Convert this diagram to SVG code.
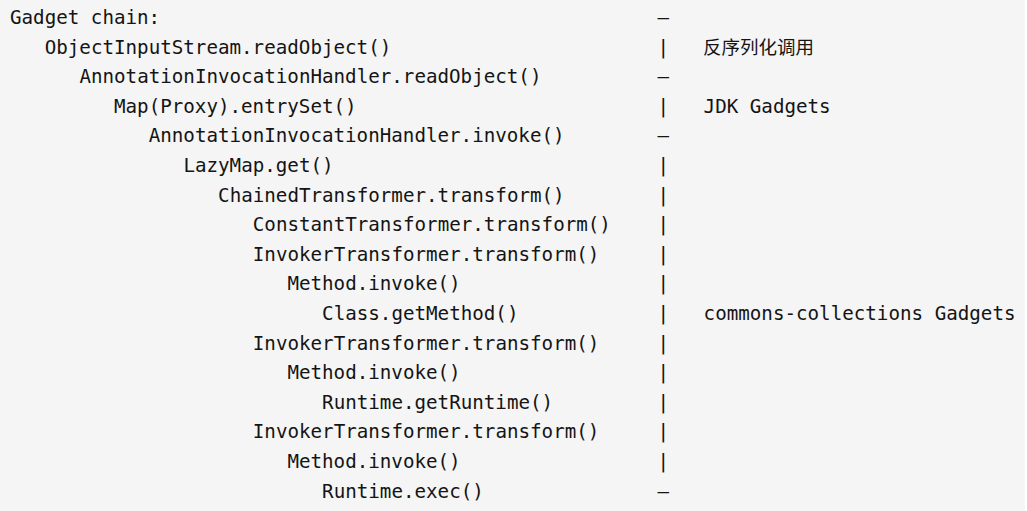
<svg xmlns="http://www.w3.org/2000/svg" width="1027" height="511" viewBox="0 0 1027 511">
<style>
text{font-family:"DejaVu Sans Mono","Liberation Mono","Noto Sans CJK SC",monospace;font-size:19.2px;fill:#141414}
.cjk{font-family:"Noto Sans CJK SC","DejaVu Sans",sans-serif;font-size:18.5px;font-weight:400}
</style>
<rect x="0" y="0" width="1027" height="511" fill="#f5f5f5"/>
<rect x="1025" y="0" width="2" height="511" fill="#ffffff"/>
<g id="chain">
<text x="10" y="24">Gadget chain:</text>
<text x="44.7" y="53.6">ObjectInputStream.readObject()</text>
<text x="79.4" y="83.2">AnnotationInvocationHandler.readObject()</text>
<text x="114" y="112.8">Map(Proxy).entrySet()</text>
<text x="148.7" y="142.4">AnnotationInvocationHandler.invoke()</text>
<text x="183.4" y="172">LazyMap.get()</text>
<text x="218.1" y="201.6">ChainedTransformer.transform()</text>
<text x="252.8" y="231.2">ConstantTransformer.transform()</text>
<text x="252.8" y="260.8">InvokerTransformer.transform()</text>
<text x="287.4" y="290.4">Method.invoke()</text>
<text x="322.1" y="320">Class.getMethod()</text>
<text x="252.8" y="349.6">InvokerTransformer.transform()</text>
<text x="287.4" y="379.2">Method.invoke()</text>
<text x="322.1" y="408.8">Runtime.getRuntime()</text>
<text x="252.8" y="438.4">InvokerTransformer.transform()</text>
<text x="287.4" y="468">Method.invoke()</text>
<text x="322.1" y="497.6">Runtime.exec()</text>
</g>
<g id="markers">
<text x="657.4" y="24">–</text>
<text x="657.4" y="53.6">|</text>
<text x="657.4" y="83.2">–</text>
<text x="657.4" y="112.8">|</text>
<text x="657.4" y="142.4">–</text>
<text x="657.4" y="172">|</text>
<text x="657.4" y="201.6">|</text>
<text x="657.4" y="231.2">|</text>
<text x="657.4" y="260.8">|</text>
<text x="657.4" y="290.4">|</text>
<text x="657.4" y="320">|</text>
<text x="657.4" y="349.6">|</text>
<text x="657.4" y="379.2">|</text>
<text x="657.4" y="408.8">|</text>
<text x="657.4" y="438.4">|</text>
<text x="657.4" y="468">|</text>
<text x="657.4" y="497.6">–</text>
</g>
<g id="labels">
<text class="cjk" x="703" y="54">反序列化调用</text>
<text x="703.6" y="112.8">JDK Gadgets</text>
<text x="703.6" y="320">commons-collections Gadgets</text>
</g>
</svg>
